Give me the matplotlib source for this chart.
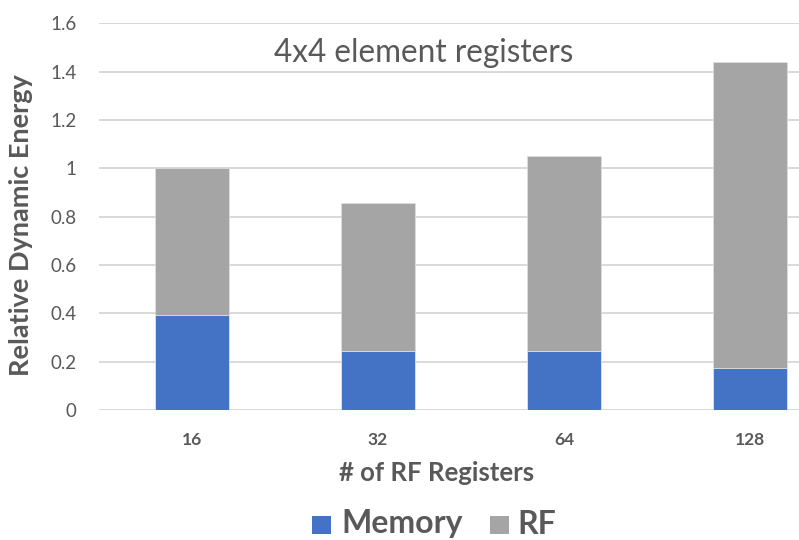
import matplotlib.pyplot as plt
import numpy as np
from matplotlib.patches import Rectangle

plt.rcParams['font.family'] = ['Lato', 'DejaVu Sans']

# Data
categories = ['16', '32', '64', '128']
memory = [0.395, 0.245, 0.245, 0.175]
rf = [0.605, 0.61, 0.807, 1.265]
y_ticks = [0, 0.2, 0.4, 0.6, 0.8, 1.0, 1.2, 1.4, 1.6]
y_tick_labels = ['0', '0.2', '0.4', '0.6', '0.8', '1', '1.2', '1.4', '1.6']

BLUE = '#4472C4'
GRAY = '#A5A5A5'
TEXT = '#595959'
GRID = '#D9D9D9'

W, H = 799, 540
fig = plt.figure(figsize=(W / 100, H / 100), dpi=100)

# plot area in pixels, converted to figure fractions
left_px, right_px, top_px, bottom_px = 99, 843, 23.3, 410
ax = fig.add_axes([left_px / W, 1 - bottom_px / H,
                   (right_px - left_px) / W, (bottom_px - top_px) / H])

x = np.arange(len(categories))
ax.bar(x, memory, width=0.4, color=BLUE, edgecolor='#E8EEF8', linewidth=0.5, zorder=3)
ax.bar(x, rf, width=0.4, bottom=memory, color=GRAY, edgecolor='#E0E0E0', linewidth=0.5, zorder=3)

ax.set_xlim(-0.5, len(categories) - 0.5)
ax.set_ylim(0, 1.6)
ax.set_yticks(y_ticks)
ax.set_yticklabels(y_tick_labels, fontsize=13.5, color=TEXT)
ax.set_xticks(x)
ax.set_xticklabels(categories, fontsize=12.5, fontweight='bold', color=TEXT)
ax.tick_params(axis='y', length=0, pad=16)
ax.tick_params(axis='x', length=0, pad=16)

ax.grid(axis='y', color=GRID, linewidth=1.4, zorder=0)
for s in ['top', 'right', 'left', 'bottom']:
    ax.spines[s].set_visible(False)
ax.axhline(0, color=GRID, linewidth=1.4, zorder=1)

# titles
fig.text(424 / W, 1 - 62 / H, '4x4 element registers', fontsize=22.7, color=TEXT,
         ha='center', va='baseline')
fig.text(437 / W, 1 - 481 / H, '# of RF Registers', fontsize=18.5, fontweight='bold',
         color=TEXT, ha='center', va='baseline')
fig.text(21.5 / W, 1 - 225 / H, 'Relative Dynamic Energy', fontsize=19.5, fontweight='bold',
         color=TEXT, ha='center', va='center', rotation=90)

# legend
legend_items = [('Memory', BLUE, 312, 341), ('RF', GRAY, 490, 517)]
for label, color, sq_x, tx_x in legend_items:
    fig.patches.append(Rectangle((sq_x / W, 1 - 533.5 / H), 18.5 / W, 17.5 / H,
                                 transform=fig.transFigure, facecolor=color,
                                 edgecolor='none'))
    fig.text(tx_x / W, 1 - 533.5 / H, label, fontsize=23, fontweight='bold',
             color=TEXT, ha='left', va='baseline')

fig.savefig('out.png', dpi=100)
